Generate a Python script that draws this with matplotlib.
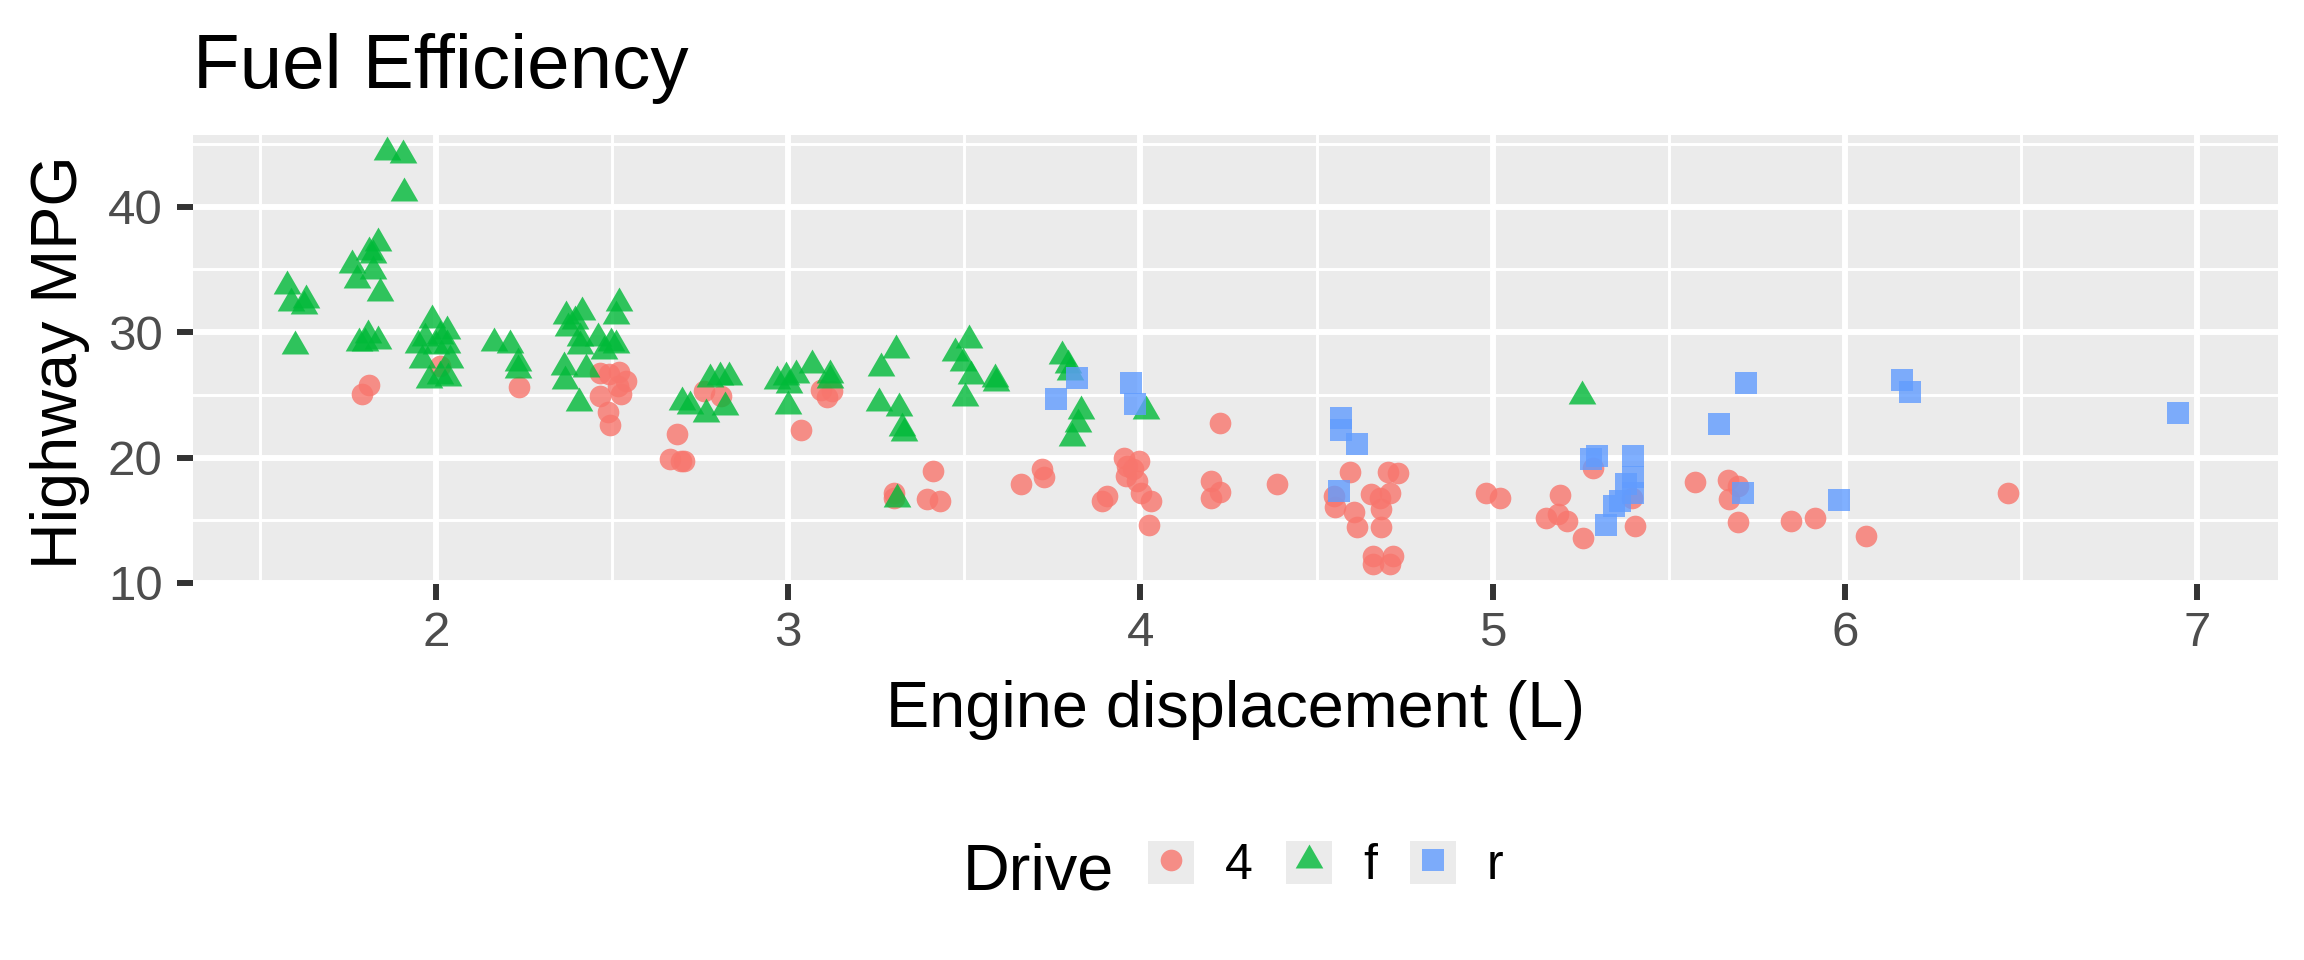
import matplotlib
matplotlib.use("Agg")
import matplotlib.pyplot as plt
from matplotlib.patches import Rectangle
from matplotlib.lines import Line2D
import numpy as np

plt.rcParams['font.family'] = ['Liberation Sans', 'DejaVu Sans']

# jittered engine displacement / highway mpg
x4 = [1.79, 1.81, 2.01, 2.235, 2.466, 2.49, 2.52, 2.54, 2.517, 2.466, 2.525, 2.487, 2.495,
      2.685, 2.664, 2.695, 2.705, 2.76, 2.81, 3.109, 3.093, 3.124, 3.035, 3.301, 3.30,
      3.411, 3.394, 3.431, 3.662, 3.72, 3.725, 3.954, 3.997, 3.961, 3.98, 3.96, 3.99,
      4.002, 4.029, 3.905, 3.89, 4.025, 4.227, 4.201, 4.20, 4.227, 4.387, 4.595, 4.702,
      4.73, 4.55, 4.553, 4.607, 4.615, 4.656, 4.68, 4.709, 4.682, 4.682, 4.659, 4.717,
      4.659, 4.709, 4.98, 5.021, 5.192, 5.153, 5.186, 5.212, 5.258, 5.285, 5.397, 5.405,
      5.576, 5.669, 5.696, 5.67, 5.696, 5.846, 5.915, 6.06, 6.463]
y4 = [25.08, 25.74, 27.3, 25.6, 26.75, 26.62, 26.8, 26.09, 25.69, 24.9, 25.03, 23.63, 22.57,
      21.91, 19.87, 19.74, 19.74, 25.27, 24.87, 24.84, 25.37, 25.29, 22.2, 17.2, 16.8,
      18.93, 16.73, 16.52, 17.87, 19.06, 18.48, 20.0, 19.72, 19.33, 19.06, 18.53, 18.13,
      17.2, 16.54, 16.93, 16.54, 14.66, 22.76, 18.13, 16.8, 17.28, 17.87, 18.88, 18.88,
      18.75, 16.94, 16.09, 15.67, 14.5, 17.07, 16.8, 17.2, 15.88, 14.5, 12.17, 12.17,
      11.51, 11.51, 17.2, 16.8, 16.99, 15.21, 15.53, 14.95, 13.55, 19.19, 16.8, 14.55,
      18.05, 18.24, 17.76, 16.7, 14.85, 14.93, 15.17, 13.75, 17.17]

xf = [1.862, 1.907, 1.909, 1.835, 1.81, 1.822, 1.761, 1.777, 1.82, 1.84, 1.576, 1.588,
      1.632, 1.626, 1.60, 1.78, 1.807, 1.836, 1.797, 1.99, 2.03, 2.01, 1.97, 1.95, 2.03,
      2.0, 2.04, 1.96, 2.01, 1.98, 2.035, 2.164, 2.21, 2.233, 2.233, 2.37, 2.414, 2.395,
      2.52, 2.51, 2.46, 2.41, 2.375, 2.497, 2.51, 2.477, 2.41, 2.363, 2.426, 2.367, 2.406,
      2.698, 2.72, 2.779, 2.807, 2.832, 2.766, 2.82, 2.967, 2.994, 3.022, 3.002, 3.0,
      3.068, 3.119, 3.12, 3.306, 3.264, 3.258, 3.315, 3.324, 3.33, 3.309, 3.514, 3.474,
      3.497, 3.518, 3.503, 3.586, 3.59, 3.778, 3.794, 3.80, 3.832, 3.822, 3.807, 4.015, 5.255]
yf = [44.36, 44.1, 41.06, 37.08, 36.4, 36.15, 35.36, 34.17, 34.83, 33.1, 33.63, 32.31,
      32.58, 32.04, 28.92, 29.13, 29.79, 29.26, 29.13, 30.99, 30.06, 29.66, 29.53, 29.0,
      29.0, 28.87, 27.81, 27.81, 26.48, 26.2, 26.35, 29.13, 29.0, 27.55, 27.0, 31.25,
      31.57, 30.86, 32.3, 31.25, 29.53, 29.53, 30.33, 29.13, 29.0, 28.47, 28.87, 27.2,
      27.04, 26.06, 24.34, 24.4, 24.13, 26.25, 26.38, 26.38, 23.46, 23.99, 26.08, 26.43,
      26.54, 25.77, 24.1, 27.41, 26.61, 26.2, 28.6, 27.14, 24.36, 23.97, 22.38, 21.98,
      16.68, 29.4, 28.34, 27.55, 26.49, 24.76, 26.22, 25.95, 28.07, 27.41, 26.8, 23.7,
      22.64, 21.58, 23.7, 24.89]

xr = [3.761, 3.821, 3.973, 3.986, 4.57, 4.57, 4.615, 4.565, 5.297, 5.28, 5.399, 5.40,
      5.38, 5.40, 5.361, 5.346, 5.323, 5.644, 5.72, 5.711, 5.984, 6.162, 6.185, 6.947]
yr = [24.68, 26.35, 25.97, 24.25, 23.17, 22.2, 21.05, 17.34, 20.13, 19.9, 20.13, 18.41,
      17.87, 17.2, 16.54, 16.14, 14.66, 22.7, 25.95, 17.15, 16.6, 26.21, 25.23, 23.56]

drv_labels = ['4', 'f', 'r']
drv_colors = ['#F8766D', '#00BA38', '#619CFF']
x_ticks = [2, 3, 4, 5, 6, 7]
y_ticks = [10, 20, 30, 40]

# equilateral triangle like R's pch 17
tri = [(0, 0.5774), (-0.5, -0.2887), (0.5, -0.2887)]
markers = ['o', tri, 's']
msizes = [15.6, 23.0, 16.0]

W, H = 2304, 960
fig = plt.figure(figsize=(W / 100, H / 100), dpi=100)
ax = fig.add_axes([193 / W, (H - 584) / H, (2278 - 193) / W, (584 - 135) / H])
ax.set_facecolor('#EBEBEB')
for s in ax.spines.values():
    s.set_visible(False)

ax.set_xlim(1.31, 7.23)
ax.set_ylim(9.92, 45.7)
ax.set_xticks(x_ticks)
ax.set_yticks(y_ticks)
ax.set_xticks(np.arange(1.5, 7.3, 1.0), minor=True)
ax.set_yticks([15, 25, 35, 45], minor=True)
ax.grid(which='major', color='white', linewidth=4.3)
ax.grid(which='minor', color='white', linewidth=2.15)
ax.set_axisbelow(True)
ax.tick_params(which='major', length=11.8, width=4.3, color='#333333',
               labelsize=35.5, labelcolor='#4D4D4D')
ax.tick_params(axis='x', which='major', pad=8)
ax.tick_params(axis='y', which='major', pad=10)
ax.tick_params(which='minor', length=0)

groups = [(x4, y4), (xf, yf), (xr, yr)]
for (gx, gy), col, mk, ms in zip(groups, drv_colors, markers, msizes):
    ax.scatter(gx, gy, s=ms ** 2, marker=mk, color=col, alpha=0.8,
               linewidths=0, zorder=3)

fig.text(193 / W, (H - 88) / H, 'Fuel Efficiency', fontsize=55, ha='left',
         va='baseline', color='black')
fig.text(1235 / W, (H - 727) / H, 'Engine displacement (L)', fontsize=46.6,
         ha='center', va='baseline', color='black')
fig.text(30 / W, (H - 362) / H, 'Highway MPG', fontsize=46.6, rotation=90,
         ha='left', va='center', color='black')

# legend
fig.text(963 / W, (H - 889) / H, 'Drive', fontsize=46.6, ha='left',
         va='baseline', color='black')
handles = []
for col, mk, ms in zip(drv_colors, markers, msizes):
    box = Rectangle((0, 0), 1, 1, facecolor='#EBEBEB', edgecolor='none')
    pt = Line2D([], [], linestyle='none', marker=mk, markersize=ms,
                markerfacecolor=col, markeredgewidth=0, alpha=0.8)
    handles.append((box, pt))
fig.legend(handles, drv_labels, loc='center left',
           bbox_to_anchor=(1148 / W, (H - 865) / H), bbox_transform=fig.transFigure,
           ncol=3, frameon=False, fontsize=36, borderpad=0, borderaxespad=0,
           handlelength=0.92, handleheight=0.96, handletextpad=0.62,
           columnspacing=0.66)

fig.savefig('out.png', dpi=100)
